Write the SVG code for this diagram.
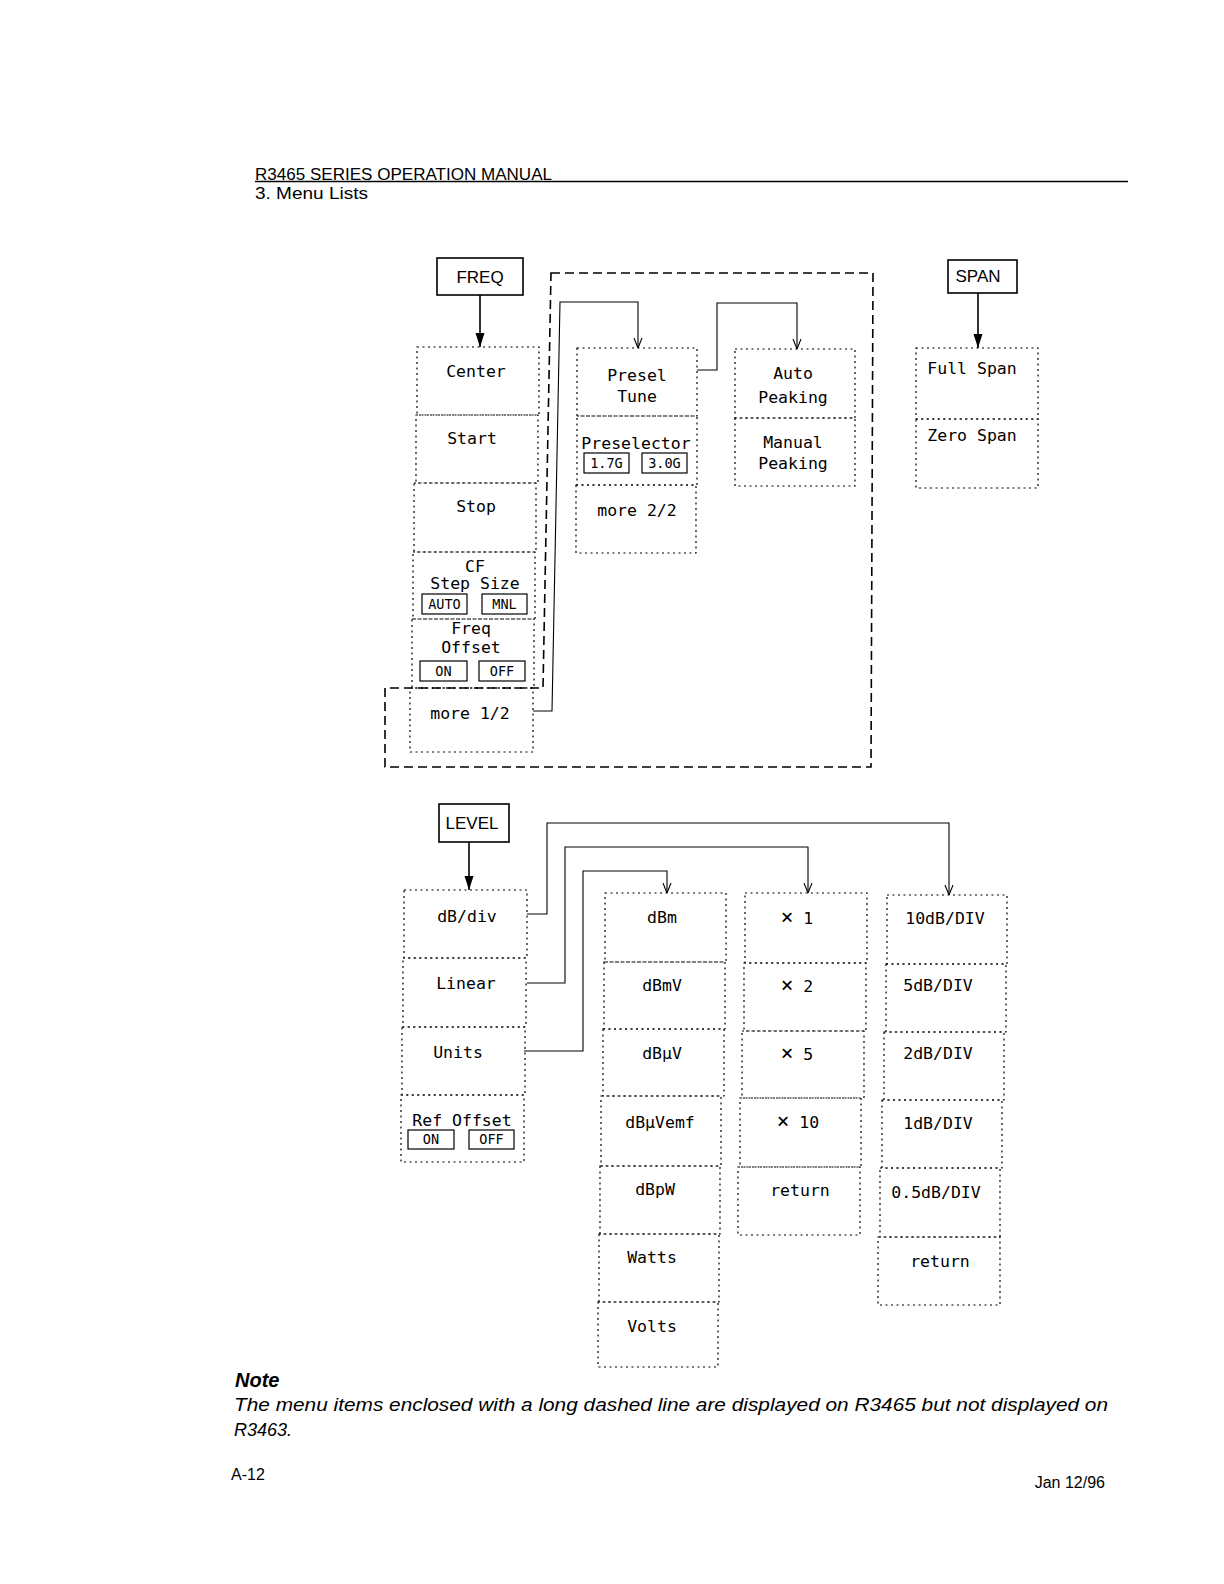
<svg xmlns="http://www.w3.org/2000/svg" width="1224" height="1584" viewBox="0 0 1224 1584">
<style>
.bg{fill:#fff}
.m{fill:none;stroke:#000;stroke-width:1.2;stroke-dasharray:2,3.5}
.key{fill:#fff;stroke:#000;stroke-width:1.6}
.sub{fill:none;stroke:#000;stroke-width:1.2}
.t{font-family:"DejaVu Sans Mono",monospace;font-size:16.5px;fill:#000;text-anchor:middle}
.s{font-family:"DejaVu Sans Mono",monospace;font-size:13.5px;fill:#000;text-anchor:middle}
.x{font-size:21px}
.k{font-family:"Liberation Sans",Arial,sans-serif;font-size:17px;fill:#000;text-anchor:middle}
.h{font-family:"Liberation Sans",Arial,sans-serif;font-size:16px;fill:#000}
.c{fill:none;stroke:#000;stroke-width:1.1}
.b{fill:none;stroke:#000;stroke-width:1.6}
.enc{fill:none;stroke:#000;stroke-width:1.6;stroke-dasharray:9,5}
.n{font-family:"Liberation Sans",Arial,sans-serif;font-size:18px;font-style:italic;fill:#000}
</style>
<defs>
<marker id="va" viewBox="0 0 10 10" refX="10" refY="5" markerWidth="10" markerHeight="10" markerUnits="userSpaceOnUse" orient="auto">
<path d="M0,1 L10,5 L0,9" fill="none" stroke="#000" stroke-width="1.1"/>
</marker>
<marker id="fa" viewBox="0 0 14 10" refX="14" refY="5" markerWidth="14" markerHeight="10" markerUnits="userSpaceOnUse" orient="auto">
<path d="M0,0.5 L14,5 L0,9.5 Z" fill="#000"/>
</marker>
</defs>
<rect class="bg" x="0" y="0" width="1224" height="1584"/>

<g id="header">
<text class="h" x="255" y="180" textLength="297" lengthAdjust="spacingAndGlyphs">R3465 SERIES OPERATION MANUAL</text>
<line x1="255" y1="181.5" x2="1128" y2="181.5" stroke="#000" stroke-width="1.4"/>
<text class="h" x="255" y="199" textLength="113" lengthAdjust="spacingAndGlyphs">3. Menu Lists</text>
</g>

<g id="enclosure">
<path class="enc" d="M551,273 L873,273 L871,767 L385,767 L385,688 L543,688 Z"/>
</g>

<g id="connectors">
<line class="b" x1="480" y1="295" x2="480" y2="347" marker-end="url(#fa)"/>
<line class="b" x1="978" y1="293" x2="978" y2="348" marker-end="url(#fa)"/>
<line class="b" x1="469" y1="842" x2="469" y2="890" marker-end="url(#fa)"/>
<path class="c" d="M533,711 L552,711 L560,302 L638,302 L638,348" marker-end="url(#va)"/>
<path class="c" d="M697,370 L717,370 L717,303 L797,303 L797,349" marker-end="url(#va)"/>
<path class="c" d="M527,914 L547,914 L547,823 L949,823 L949,895" marker-end="url(#va)"/>
<path class="c" d="M527,983 L565,983 L565,847 L808,847 L808,893" marker-end="url(#va)"/>
<path class="c" d="M524,1051 L583,1051 L583,871 L667,871 L667,893" marker-end="url(#va)"/>
</g>

<g id="freq"><rect class="key" x="437" y="258" width="86" height="37"/><text class="k" x="480" y="283">FREQ</text></g>
<g id="span"><rect class="key" x="948" y="260" width="69" height="33"/><text class="k" x="978" y="282">SPAN</text></g>
<g id="level"><rect class="key" x="439" y="804" width="70" height="38"/><text class="k" x="472" y="829">LEVEL</text></g>

<g id="center"><rect class="m" x="417" y="347" width="122" height="68"/><text class="t" x="476" y="377">Center</text></g>
<g id="start"><rect class="m" x="416" y="415" width="122" height="68"/><text class="t" x="472" y="444">Start</text></g>
<g id="stop"><rect class="m" x="414" y="483" width="122" height="69"/><text class="t" x="476" y="512">Stop</text></g>
<g id="cf-step-size"><rect class="m" x="413" y="552" width="122" height="67"/>
<text class="t" x="475" y="572">CF</text><text class="t" x="475" y="589">Step Size</text>
<rect class="sub" x="422" y="594" width="45" height="20"/><text class="s" x="444.5" y="609">AUTO</text>
<rect class="sub" x="482" y="594" width="45" height="20"/><text class="s" x="504.5" y="609">MNL</text></g>
<g id="freq-offset"><rect class="m" x="412" y="619" width="122" height="69"/>
<text class="t" x="471" y="634">Freq</text><text class="t" x="471" y="653">Offset</text>
<rect class="sub" x="420" y="661" width="47" height="20"/><text class="s" x="443.5" y="676">ON</text>
<rect class="sub" x="479" y="661" width="46" height="20"/><text class="s" x="502" y="676">OFF</text></g>
<g id="more-1-2"><rect class="m" x="410" y="688" width="123" height="64"/><text class="t" x="470" y="719">more 1/2</text></g>

<g id="presel-tune"><rect class="m" x="577" y="348" width="120" height="68"/><text class="t" x="637" y="381">Presel</text><text class="t" x="637" y="402">Tune</text></g>
<g id="preselector"><rect class="m" x="577" y="416" width="120" height="69"/><text class="t" x="636" y="449">Preselector</text>
<rect class="sub" x="584" y="453" width="45" height="20"/><text class="s" x="606.5" y="468">1.7G</text>
<rect class="sub" x="642" y="453" width="45" height="20"/><text class="s" x="664.5" y="468">3.0G</text></g>
<g id="more-2-2"><rect class="m" x="576" y="485" width="120" height="68"/><text class="t" x="637" y="516">more 2/2</text></g>

<g id="auto-peaking"><rect class="m" x="735" y="349" width="120" height="69"/><text class="t" x="793" y="379">Auto</text><text class="t" x="793" y="403">Peaking</text></g>
<g id="manual-peaking"><rect class="m" x="735" y="418" width="120" height="68"/><text class="t" x="793" y="448">Manual</text><text class="t" x="793" y="469">Peaking</text></g>

<g id="full-span"><rect class="m" x="916" y="348" width="122" height="71"/><text class="t" x="972" y="374">Full Span</text></g>
<g id="zero-span"><rect class="m" x="916" y="419" width="122" height="69"/><text class="t" x="972" y="441">Zero Span</text></g>

<g id="db-div"><rect class="m" x="404" y="890" width="123" height="68"/><text class="t" x="467" y="922">dB/div</text></g>
<g id="linear"><rect class="m" x="403" y="958" width="123" height="69"/><text class="t" x="466" y="989">Linear</text></g>
<g id="units"><rect class="m" x="402" y="1027" width="123" height="68"/><text class="t" x="458" y="1058">Units</text></g>
<g id="ref-offset"><rect class="m" x="401" y="1095" width="123" height="67"/><text class="t" x="462" y="1126">Ref Offset</text>
<rect class="sub" x="408" y="1130" width="46" height="19"/><text class="s" x="431" y="1144">ON</text>
<rect class="sub" x="469" y="1130" width="45" height="19"/><text class="s" x="491.5" y="1144">OFF</text></g>

<g id="dbm"><rect class="m" x="605" y="893" width="121" height="69"/><text class="t" x="662" y="923">dBm</text></g>
<g id="dbmv"><rect class="m" x="604" y="962" width="121" height="67"/><text class="t" x="662" y="991">dBmV</text></g>
<g id="dbuv"><rect class="m" x="603" y="1029" width="121" height="67"/><text class="t" x="662" y="1059">dBμV</text></g>
<g id="dbuvemf"><rect class="m" x="601" y="1096" width="120" height="70"/><text class="t" x="660" y="1128">dBμVemf</text></g>
<g id="dbpw"><rect class="m" x="600" y="1166" width="120" height="68"/><text class="t" x="655" y="1195">dBpW</text></g>
<g id="watts"><rect class="m" x="599" y="1234" width="120" height="68"/><text class="t" x="652" y="1263">Watts</text></g>
<g id="volts"><rect class="m" x="598" y="1302" width="120" height="65"/><text class="t" x="652" y="1332">Volts</text></g>

<g id="x1"><rect class="m" x="745" y="893" width="122" height="70"/><text class="t" x="797" y="924"><tspan class="x">×</tspan> 1</text></g>
<g id="x2"><rect class="m" x="744" y="963" width="122" height="68"/><text class="t" x="797" y="992"><tspan class="x">×</tspan> 2</text></g>
<g id="x5"><rect class="m" x="742" y="1031" width="122" height="67"/><text class="t" x="797" y="1060"><tspan class="x">×</tspan> 5</text></g>
<g id="x10"><rect class="m" x="740" y="1098" width="121" height="69"/><text class="t" x="798" y="1128"><tspan class="x">×</tspan> 10</text></g>
<g id="return-1"><rect class="m" x="738" y="1167" width="122" height="68"/><text class="t" x="800" y="1196">return</text></g>

<g id="div-10"><rect class="m" x="887" y="895" width="120" height="69"/><text class="t" x="945" y="924">10dB/DIV</text></g>
<g id="div-5"><rect class="m" x="886" y="964" width="120" height="68"/><text class="t" x="938" y="991">5dB/DIV</text></g>
<g id="div-2"><rect class="m" x="884" y="1032" width="120" height="68"/><text class="t" x="938" y="1059">2dB/DIV</text></g>
<g id="div-1"><rect class="m" x="882" y="1100" width="120" height="68"/><text class="t" x="938" y="1129">1dB/DIV</text></g>
<g id="div-05"><rect class="m" x="880" y="1168" width="120" height="69"/><text class="t" x="936" y="1198">0.5dB/DIV</text></g>
<g id="return-2"><rect class="m" x="878" y="1237" width="122" height="68"/><text class="t" x="940" y="1267">return</text></g>

<g id="note">
<text x="235" y="1387" font-family="Liberation Sans, Arial, sans-serif" font-size="20" font-weight="bold" font-style="italic">Note</text>
<text class="n" x="234" y="1411" textLength="874" lengthAdjust="spacingAndGlyphs">The menu items enclosed with a long dashed line are displayed on R3465 but not displayed on</text>
<text class="n" x="234" y="1436">R3463.</text>
</g>
<g id="footer">
<text class="h" x="231" y="1480">A-12</text>
<text class="h" x="1105" y="1488" text-anchor="end">Jan 12/96</text>
</g>
</svg>
